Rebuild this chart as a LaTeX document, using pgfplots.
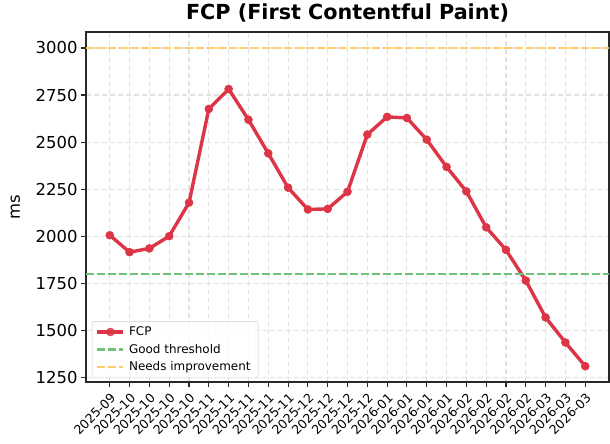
\documentclass[border=0pt]{standalone}
\usepackage{pgfplots}
\pgfplotsset{compat=1.18}
\usepackage{fontspec}
\setmainfont{DejaVu Sans}
\definecolor{fcpred}{RGB}{220,53,69}
\definecolor{goodgreen}{RGB}{112,193,122}
\definecolor{needsorange}{RGB}{255,206,105}
\definecolor{gridgray}{RGB}{226,226,226}
\definecolor{framegray}{RGB}{40,40,40}
\begin{document}
\begin{tikzpicture}
\begin{axis}[
  scale only axis, width=523bp, height=350bp,
  xmin=-1.2, xmax=25.2, ymin=1225, ymax=3085,
  xtick={0,...,24},
  xticklabels={2025-09,2025-10,2025-10,2025-10,2025-10,2025-11,2025-11,2025-11,2025-11,2025-11,2025-12,2025-12,2025-12,2025-12,2026-01,2026-01,2026-01,2026-01,2026-02,2026-02,2026-02,2026-02,2026-03,2026-03,2026-03},
  ytick={1250,1500,1750,2000,2250,2500,2750,3000},
  /pgf/number format/assume math mode=true,
  /pgf/number format/1000 sep={},
  yticklabel style={font=\fontsize{16.5}{19}\selectfont},
  xticklabel style={font=\fontsize{12.6}{14}\selectfont, rotate=45, anchor=north east, inner sep=3.5bp},
  tick pos=left, tick align=outside, major tick length=4.9bp,
  tick style={line width=1.1bp, framegray},
  axis line style={line width=1.1bp, framegray},
  grid=major,
  major grid style={line width=1.1bp, gridgray, dash pattern=on 5bp off 3bp},
  title={FCP (First Contentful Paint)},
  title style={font=\bfseries\fontsize{20.8}{24}\selectfont, at={(axis description cs:0.5,1)}, anchor=base, yshift=7bp},
  ylabel={ms},
  ylabel style={font=\fontsize{16.5}{19}\selectfont, at={(axis description cs:-0.1348,0.5)}, anchor=center},
  legend style={at={(axis description cs:0,0)}, anchor=south west, xshift=6bp, yshift=4bp,
    draw=black!20, rounded corners=2bp, fill=white, fill opacity=0.8, text opacity=1,
    font=\fontsize{12}{14}\selectfont, inner sep=3.5bp, row sep=3bp},
  legend cell align=left,
  legend image code/.code={\draw[mark repeat=2,mark phase=2,#1] plot coordinates {(0bp,0bp)(13bp,0bp)(26bp,0bp)};},
  legend style={nodes={inner xsep=4bp}},
]
\addplot[fcpred, line width=3.4bp, mark=*, mark size=4bp, mark options={solid, fill=fcpred, draw=fcpred, line width=0.5bp}] coordinates {
(0,2005) (1,1915) (2,1935) (3,2000) (4,2178) (5,2676) (6,2782) (7,2619) (8,2440) (9,2258)
(10,2142) (11,2145) (12,2236) (13,2540) (14,2634) (15,2628) (16,2513) (17,2368) (18,2238)
(19,2047) (20,1927) (21,1764) (22,1568) (23,1435) (24,1309)};
\addlegendentry{FCP}
\addplot[goodgreen, line width=2.1bp, dash pattern=on 7.7bp off 3.3bp] coordinates {(-1.2,1800) (25.2,1800)};
\addlegendentry{Good threshold}
\addplot[needsorange, line width=2.1bp, dash pattern=on 7.7bp off 3.3bp] coordinates {(-1.2,3000) (25.2,3000)};
\addlegendentry{Needs improvement}
\coordinate (fl) at (rel axis cs:0,0);
\coordinate (tr) at (rel axis cs:1,1);
\end{axis}
\pgfresetboundingbox
\path ([xshift=-86bp,yshift=-62bp]fl) rectangle ([xshift=1bp,yshift=32bp]tr);
\end{tikzpicture}
\end{document}
